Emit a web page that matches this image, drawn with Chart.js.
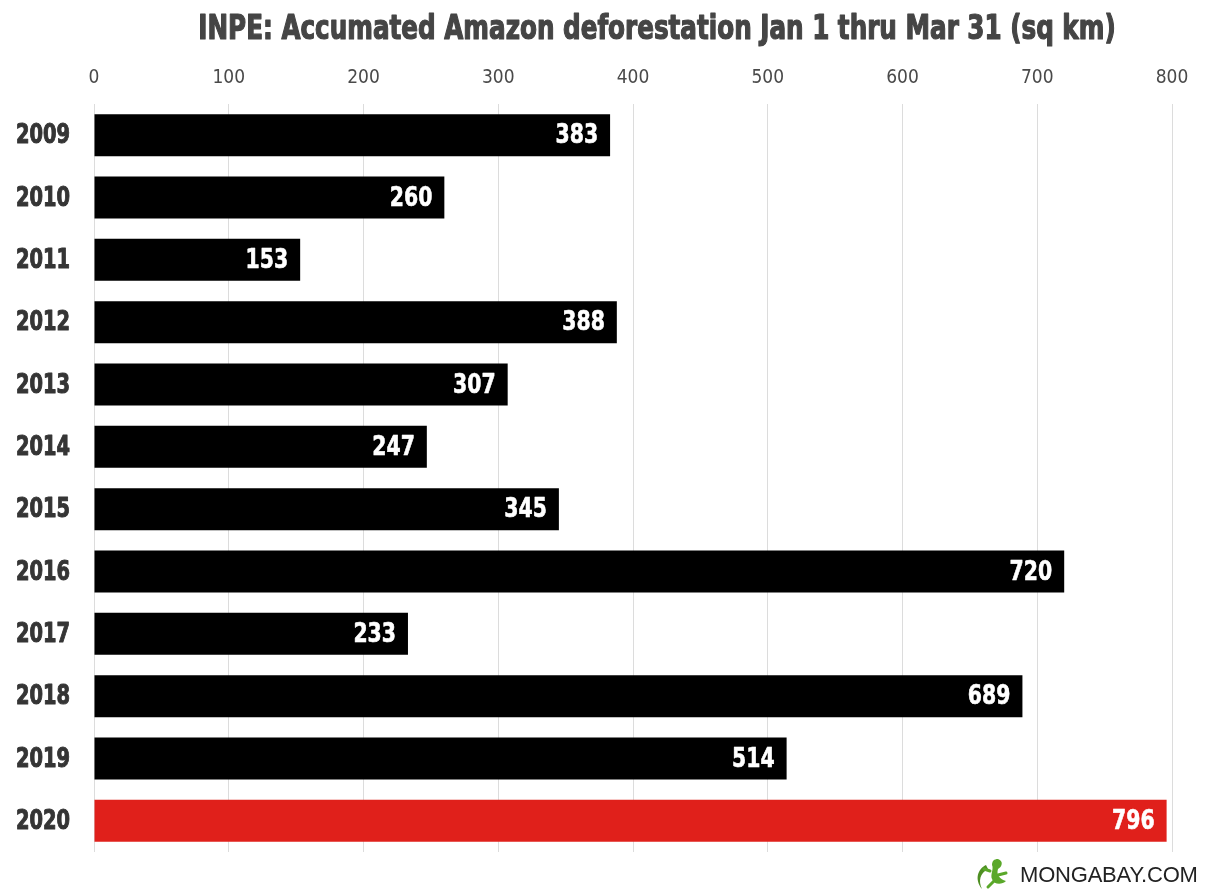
<!DOCTYPE html>
<html>
<head>
<meta charset="utf-8">
<script src="https://cdn.jsdelivr.net/npm/chart.js@4/dist/chart.umd.min.js"></script>
<style>
  html, body { margin: 0; padding: 0; background: #fff; }
  #wrap { position: relative; width: 1217px; height: 893px; }
  #logo { position: absolute; left: 968px; top: 857px; height: 36px; display: flex; align-items: center; }
  #logo span { font-family: "Liberation Sans", Arial, sans-serif; font-size: 22px; color: #222; margin-left: 6px; letter-spacing: -0.2px; }
</style>
</head>
<body>
<div id="wrap">
  <canvas id="c" width="1217" height="893"></canvas>
  <div id="logo">
    <svg width="46" height="36" viewBox="0 0 46 36">
      <path d="M18 8 C10 12, 6 22, 14 32 C10 24, 12 16, 20 12 Z" fill="#4e8f22"/>
      <path d="M30 2 C36 4, 34 10, 30 12 C28 18, 32 22, 38 24 C34 28, 26 28, 24 22 C22 18, 26 12, 24 8 C24 4, 26 2, 30 2 Z" fill="#5aa82a"/>
      <path d="M22 14 L16 12 M30 18 L38 16 M26 24 L20 30" stroke="#5aa82a" stroke-width="3" stroke-linecap="round"/>
    </svg>
    <span>MONGABAY.COM</span>
  </div>
</div>
<script>
const categories = ["2009","2010","2011","2012","2013","2014","2015","2016","2017","2018","2019","2020"];
const values = [383, 260, 153, 388, 307, 247, 345, 720, 233, 689, 514, 796];
const tickValues = [0, 100, 200, 300, 400, 500, 600, 700, 800];
const titleText = "INPE: Accumated Amazon deforestation Jan 1 thru Mar 31 (sq km)";

const NARROW = '"DejaVu Sans Condensed", "Liberation Sans Narrow", sans-serif';

const barColors = categories.map((c, i) => i === categories.length - 1 ? '#e0201b' : '#000000');

function drawSquished(ctx, text, x, y, sx, align, stroke) {
  ctx.save();
  ctx.translate(x, y);
  ctx.scale(sx, 1);
  ctx.textAlign = align;
  ctx.fillText(text, 0, 0);
  if (stroke) {
    ctx.strokeStyle = ctx.fillStyle;
    ctx.lineWidth = stroke;
    ctx.lineJoin = 'round';
    ctx.strokeText(text, 0, 0);
  }
  ctx.restore();
}

const textPlugin = {
  id: 'textPlugin',
  afterDraw(chart) {
    const ctx = chart.ctx;
    // title
    ctx.save();
    ctx.fillStyle = '#454545';
    ctx.font = 'bold 33px ' + NARROW;
    ctx.textBaseline = 'middle';
    drawSquished(ctx, titleText, 657, 30, 0.83, 'center', 1.2);
    ctx.restore();
    // category labels
    const yScale = chart.scales.y;
    ctx.save();
    ctx.fillStyle = '#353535';
    ctx.font = 'bold 27px ' + NARROW;
    ctx.textBaseline = 'middle';
    categories.forEach((c, i) => {
      drawSquished(ctx, c, 70, yScale.getPixelForValue(i) + 1, 0.8, 'right', 1);
    });
    ctx.restore();
  },
  afterDatasetsDraw(chart) {
    const ctx = chart.ctx;
    const meta = chart.getDatasetMeta(0);
    ctx.save();
    ctx.fillStyle = '#ffffff';
    ctx.font = 'bold 27px ' + NARROW;
    ctx.textBaseline = 'middle';
    meta.data.forEach((bar, i) => {
      drawSquished(ctx, String(values[i]), bar.x - 12, bar.y + 1, 0.84, 'right', 0.6);
    });
    ctx.restore();
  }
};

new Chart(document.getElementById('c'), {
  type: 'bar',
  data: {
    labels: categories,
    datasets: [{
      data: values,
      backgroundColor: barColors,
      borderWidth: 0,
      categoryPercentage: 1,
      barPercentage: 0.675
    }]
  },
  options: {
    indexAxis: 'y',
    responsive: false,
    animation: false,
    layout: { padding: { left: 0, right: 45, top: 64, bottom: 41 } },
    plugins: {
      legend: { display: false },
      tooltip: { enabled: false },
      title: { display: false }
    },
    scales: {
      x: {
        position: 'top',
        min: 0,
        max: 800,
        afterBuildTicks(scale) { scale.ticks = tickValues.map(v => ({ value: v })); },
        afterFit(scale) { scale.height = 40; },
        ticks: {
          color: '#4a4a4a',
          font: { family: NARROW, size: 19 },
          padding: 15
        },
        grid: { color: '#dcdcdc', lineWidth: 1, drawTicks: false },
        border: { display: false }
      },
      y: {
        afterFit(scale) { scale.width = 94; },
        ticks: { display: false },
        grid: { display: false, drawTicks: false },
        border: { display: false }
      }
    }
  },
  plugins: [textPlugin]
});
</script>
</body>
</html>
